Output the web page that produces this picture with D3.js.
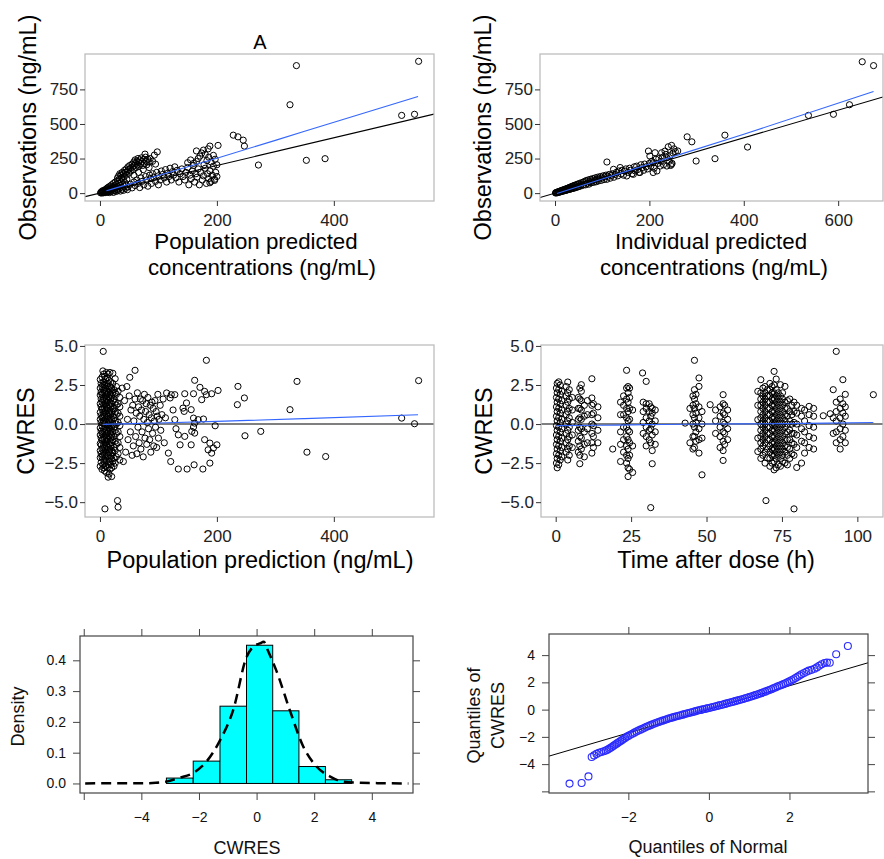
<!DOCTYPE html>
<html>
<head>
<meta charset="utf-8">
<script src="https://cdn.jsdelivr.net/npm/d3@7/dist/d3.min.js"></script>
<style>
  body { margin: 0; background: #fff; }
  svg { display: block; font-family: "Liberation Sans", Arial, sans-serif; }
</style>
</head>
<body>
<div id="main"></div>
<script>
// ---- panel 1: observations vs population predictions (ng/mL)
const obsVsPred = [
  [1,2],[2,6],[3,1],[3,12],[4,4],[5,9],[5,18],[6,2],[7,7],[7,14],[8,22],[9,4],[9,11],[10,28],[10,17],[11,6],[12,13],[12,35],
  [13,22],[14,8],[14,42],[15,15],[16,28],[16,4],[17,50],[18,20],[18,10],[19,35],[20,60],[20,26],[21,14],[22,44],[23,70],[23,5],
  [24,30],[25,18],[25,52],[26,80],[27,38],[28,12],[28,62],[29,25],[30,45],[30,90],[31,20],[32,70],[33,34],[33,100],[34,55],
  [35,15],[36,80],[36,42],[37,110],[38,28],[39,62],[40,95],[40,20],[41,120],[42,48],[43,75],[44,35],[45,130],[45,60],[46,100],[47,25],
  [30,110],[32,125],[34,140],[36,130],[38,150],[40,140],[42,165],[43,150],[45,175],[46,155],[48,190],[49,170],[50,145],[51,200],
  [52,180],[53,160],[55,210],[56,190],[57,170],[58,225],[59,200],[60,240],[61,215],[62,185],[63,230],[64,205],[65,250],[66,225],
  [67,195],[68,240],[70,215],[71,255],[72,230],[73,200],[75,245],[76,215],[78,260],[79,230],[80,205],[82,245],[84,225],[77,282],
  [93,275],[98,298],[86,250],[90,230],[95,210],[58,130],[66,150],[74,170],[84,185],
  [48,45],[52,65],[55,38],[58,80],[60,55],[63,95],[65,70],[68,40],[70,110],[72,85],[75,60],[78,120],[80,95],[82,50],[85,130],
  [87,105],[88,70],[90,140],[92,115],[95,85],[97,150],[100,125],[100,60],[103,95],[105,160],[107,135],[110,110],[112,170],[114,80],
  [116,145],[118,120],[120,180],[122,95],[124,155],[126,130],[128,190],[130,110],[132,165],[135,80],[137,140],[140,175],[142,120],
  [145,95],[147,150],[150,185],[152,60],[154,130],[156,105],[158,160],[160,200],[162,80],[164,140],[166,115],[168,175],[170,60],
  [172,150],[175,95],[177,125],[180,180],[182,70],[184,140],[186,105],[188,160],[190,85],[192,130],[194,195],[196,100],[198,150],[200,120],
  [150,220],[155,240],[160,215],[165,305],[168,250],[171,268],[174,290],[177,311],[180,280],[183,235],[186,260],[188,340],[190,225],
  [194,273],[197,245],[202,345],[200,205],[185,320],[165,228],[178,205],[188,75],[196,92],
  [228,419],[236,407],[245,383],[247,340],[271,203],[325,639],[336,922],[353,237],[385,249],[516,562],[538,570],[545,953]
];
const smoothPred = [[11,17],[100,128],[200,252],[350,447],[544,699]];

// ---- panel 2: observations vs individual predictions (ng/mL)
const obsVsIpred = [
  [1,1],[2,4],[3,2],[4,6],[5,3],[6,9],[7,5],[8,11],[9,7],[10,14],[11,9],[12,16],[13,11],[14,19],[15,13],[16,21],[17,15],[18,24],
  [19,17],[20,26],[21,18],[22,29],[23,20],[24,31],[25,23],[26,34],[27,24],[28,37],[29,27],[30,40],[31,28],[32,42],[33,30],[34,46],
  [35,32],[36,48],[37,34],[38,51],[39,35],[40,55],[42,38],[43,58],[45,41],[46,62],[48,45],[49,66],[50,48],[52,70],[53,50],[55,60],
  [56,75],[58,55],[60,80],[61,62],[63,85],[65,60],[66,90],[68,72],[70,95],[72,65],[73,82],[75,100],[77,75],[78,88],[80,105],[82,78],
  [84,95],[85,110],[87,82],[89,100],[90,115],[92,88],[94,105],[96,120],[98,92],[100,110],[102,125],[104,98],[106,118],[108,130],
  [110,225],[110,100],[112,122],[115,135],[117,108],[120,128],[122,140],[124,172],[125,115],[128,135],[130,150],[133,125],[135,160],
  [138,185],[140,140],[142,165],[145,130],[148,160],[150,175],[152,124],[155,150],[158,180],[160,165],[163,140],[166,136],[168,190],
  [170,160],[173,195],[175,170],[178,150],[180,149],[182,205],[185,185],[188,165],[190,210],[193,190],[196,175],[198,304],[200,215],
  [201,268],[203,195],[205,230],[208,220],[208,149],[210,180],[212,292],[214,245],[216,160],[218,215],[220,250],[223,196],[225,230],
  [226,292],[228,260],[230,205],[233,304],[235,280],[237,256],[237,196],[240,335],[242,230],[244,270],[245,200],[247,345],[247,208],
  [250,290],[252,320],[255,300],[260,305],[248,215],
  [280,407],[290,371],[299,232],[339,249],[360,419],[408,333],[537,562],[590,570],[624,639],[651,950],[675,922]
];
const smoothIpred = [[4,-3],[100,102],[200,210],[400,426],[675,735]];

// ---- panel 3: CWRES vs population prediction
const cwresCorePred = [
  [0.5,[-2.7,-2.15,-1.7,-1.25,-0.7,-0.25,0.3,0.75,1.3,1.85,2.3,2.85]],
  [2,[-2.45,-1.9,-1.35,-0.9,-0.45,0.1,0.55,1.1,1.6,2.05,2.6]],
  [3.5,[-2.9,-2.1,-1.6,-1.05,-0.6,-0.1,0.4,0.95,1.4,1.9,2.4,3.0]],
  [5,[-2.6,-2.0,-1.5,-0.95,-0.5,0.05,0.5,1.0,1.55,2.0,2.5,3.4]],
  [6.5,[-2.8,-2.3,-1.8,-1.3,-0.8,-0.3,0.2,0.7,1.2,1.7,2.2,2.7,3.2]],
  [8,[-3.0,-2.5,-2.0,-1.5,-1.0,-0.5,0,0.5,1.0,1.5,2.0,2.5,3.05]],
  [9.5,[-2.7,-2.2,-1.7,-1.2,-0.7,-0.2,0.3,0.8,1.3,1.8,2.3,2.9]],
  [11,[-3.1,-2.4,-1.9,-1.4,-0.9,-0.4,0.1,0.6,1.1,1.6,2.1,2.6,3.3]],
  [12.5,[-2.8,-2.1,-1.6,-1.1,-0.6,-0.1,0.4,0.9,1.4,1.9,2.4,2.95]],
  [14,[-3.4,-2.6,-2.0,-1.5,-1.0,-0.5,0,0.5,1.0,1.5,2.0,2.6,3.2]],
  [15.5,[-3.2,-2.4,-1.8,-1.3,-0.8,-0.3,0.2,0.7,1.2,1.7,2.2,2.8]],
  [17,[-2.9,-2.2,-1.6,-1.1,-0.6,-0.1,0.4,0.9,1.4,1.9,2.4,3.3]],
  [18.5,[-2.6,-2.0,-1.4,-0.9,-0.4,0.1,0.6,1.1,1.6,2.1,2.7]],
  [20,[-3.36,-2.8,-2.2,-1.7,-1.2,-0.7,-0.2,0.3,0.8,1.3,1.8,2.3]],
  [22,[-2.4,-1.8,-1.0,-0.5,0,0.5,1.0,1.5,2.0,2.6,3.25]],
  [24,[-2.7,-2.2,-1.5,-0.8,-0.2,0.4,1.0,1.6,2.2]],
  [26,[-2.5,-1.7,-1.1,-0.4,0.2,0.8,1.4,2.0,2.9]],
  [28,[-2.1,-1.3,-0.6,0,0.6,1.2,1.9,2.4]],
  [31,[-1.9,-1.2,-0.5,0.1,0.7,1.3,2.1]],
  [34,[-2.3,-1.5,-0.8,-0.1,0.5,1.1,1.7]]
];
const cwresVsPred = [
  [5.6,4.65],[8.5,-5.43],[30,-4.9],[31,-5.32],
  [38,2.3],[40,-2.4],[42,1.5],[44,-1.8],[46,2.4],[47,0.3],[48,-1.0],[50,1.8],[51,2.99],[52,-0.5],[53,0.9],[55,-2.0],[56,1.2],
  [57,-1.4],[58,0.2],[60,3.44],[60,1.6],[61,-0.8],[62,0.7],[63,-1.9],[64,2.0],[65,-0.2],[66,1.1],[67,-1.2],[68,0.5],[69,1.6],
  [70,-1.6],[71,0.9],[72,-0.5],[73,1.5],[74,-2.1],[75,0.3],[76,1.9],[77,-0.9],[78,0.8],[79,1.3],[80,-1.3],[81,0.1],[82,1.7],
  [83,-0.3],[84,0.6],[85,-1.0],[86,1.2],[87,-1.8],[88,0.4],[89,1.4],[90,-0.6],[91,1.0],[92,-1.4],[93,0.2],[94,1.5],[95,-0.2],
  [96,0.8],[97,-1.5],[98,0.5],[99,1.9],[100,-0.9],[101,0.3],[103,1.2],[104,-0.4],[106,0.6],[108,1.6],[110,-1.2],[112,0.4],
  [114,1.99],[117,-1.86],[120,1.67],[121,-2.4],[122,1.88],[125,0.9],[128,0.28],[128,1.88],[130,-0.3],[134,-0.69],[134,-2.88],
  [137,-1.33],[142,1.02],[144,0.81],[145,1.94],[145,-0.79],[148,1.35],[149,-2.88],[156,0.92],[156,-1.33],[157,-0.47],[160,1.94],
  [160,0.38],[160,-0.19],[161,-2.61],[162,2.8],[162,0.06],[162,-0.58],[168,0.28],[171,2.35],[174,1.56],[176,-2.88],[177,0.32],
  [179,2.09],[179,-1.0],[182,4.08],[182,1.88],[185,-1.65],[188,-1.22],[188,-2.5],[191,1.94],[191,-1.86],[194,-1.54],[197,-0.11],
  [200,-1.33],[202,2.15],[235,1.24],[236,2.41],[247,1.67],[248,-0.75],[275,-0.47],[325,0.92],[337,2.73],[354,-1.8],[386,-2.08],
  [516,0.38],[538,0.02],[545,2.78]
];
const smoothCwresPred = [[5,-0.02],[100,0.07],[200,0.17],[350,0.35],[544,0.6]];

// ---- panel 4: CWRES vs time after dose (h), grouped by sampling time
const cwresTimeCols = [
  [0.25,[-2.5,-1.9,-1.3,-0.7,-0.1,0.5,1.1,1.7,2.3]],
  [0.5,[-2.8,-2.2,-1.6,-1.0,-0.4,0.2,0.8,1.4,2.0,2.6]],
  [1,[-2.6,-2.0,-1.4,-0.8,-0.2,0.4,1.0,1.6,2.2,2.7]],
  [1.5,[-2.3,-1.7,-1.1,-0.5,0.1,0.7,1.3,1.9,2.5]],
  [2,[-2.1,-1.5,-0.9,-0.3,0.3,0.9,1.5,2.1]],
  [3.5,[-1.8,-1.2,-0.6,0,0.6,1.2,1.8,2.4]],
  [4,[-2.3,-1.6,-1.0,-0.4,0.2,0.8,1.4,2.0,2.69]],
  [4.5,[-2.0,-1.4,-0.8,-0.2,0.4,1.0,1.6,2.2]],
  [5.5,[-1.5,-0.7,0.1,0.9,1.7]],
  [7.5,[-1.8,-1.1,-0.4,0.3,1.0,1.7]],
  [8,[-2.54,-2.0,-1.4,-0.8,-0.2,0.4,1.0,1.6,2.3]],
  [8.5,[-1.6,-0.9,-0.3,0.3,0.9,1.5,2.1,2.52]],
  [9.5,[-2.1,-1.3,-0.5,0.5,1.2]],
  [10.5,[-1.2,-0.3,0.6,1.5]],
  [12,[-1.86,-1.2,-0.6,0,0.6,1.2,1.67,2.9]],
  [12.5,[-1.5,-0.8,-0.1,0.7,1.3]],
  [14,[-1.2,-0.4,0.4,1.1]],
  [18.9,[-1.6]],
  [21.5,[-2.4,-1.3,-0.5,0.6,1.4]],
  [22.5,[-1.8,-1.0,-0.2,0.6,1.2,1.8]],
  [23.5,[-2.5,-2.0,-1.4,-0.8,-0.2,0.4,1.0,1.6,2.3,3.44]],
  [24,[-3.36,-2.8,-2.2,-1.6,-1.0,-0.4,0.2,0.8,1.4,2.0,2.4]],
  [24.5,[-2.9,-2.0,-1.2,-0.5,0.3,1.0,1.7,2.3]],
  [25.5,[-3.1,-1.4,0.9]],
  [28.8,[3.27]],
  [29,[-0.6,0.1,0.8,1.4]],
  [30,[-1.4,-0.8,-0.2,0.4,1.0,1.3,2.73]],
  [31,[-1.0,-0.4,0.2,0.8,1.3]],
  [31.5,[-5.35,-1.2,-0.3,0.5,1.1]],
  [32,[-2.54,-1.7,-0.7,0,0.7,1.0]],
  [33,[-1.3,-0.5,0.2,0.9]],
  [42.9,[0.06]],
  [44.5,[-1.2,1.0]],
  [45.5,[-1.6,-0.8,0,0.6,1.2,1.8]],
  [46,[-1.5,-0.8,-0.2,0.4,1.0,1.6,2.2,4.08]],
  [46.5,[-1.1,-0.5,0.1,0.7,1.3,1.9]],
  [47.5,[-1.86,-1.0,-0.3,0.4,1.1,2.41,2.95]],
  [48.5,[-3.25,-0.9,0,0.8]],
  [51.2,[1.24]],
  [53,[-0.6,0.2,0.9]],
  [54.5,[-1.5,-0.8,-0.2,0.5,1.1]],
  [55.5,[-2.33,-1.7,-1.1,-0.5,0.1,0.7,1.3,1.88]],
  [56,[-1.3,-0.6,0,0.6,1.2]],
  [57,[-1.0,-0.3,0.3,0.9]],
  [67,[-1.76,-0.9,0.28,1.2,2.09]],
  [68,[-2.2,-1.6,-1.2,-0.8,-0.4,0,0.4,0.8,1.2,1.6,2.0,2.84]],
  [68.7,[-2.0,-1.4,-1.0,-0.6,-0.2,0.2,0.6,1.0,1.4,1.8,2.3]],
  [69.4,[-2.5,-1.8,-1.2,-0.8,-0.4,0,0.4,0.8,1.2,1.6,2.0,2.4]],
  [69.7,[-4.9]],
  [70.2,[-2.18,-1.6,-1.0,-0.6,-0.2,0.2,0.6,1.0,1.4,1.8,2.2]],
  [71,[-2.7,-2.2,-1.8,-1.4,-1.0,-0.6,-0.2,0.2,0.6,1.0,1.4,1.8,2.2,2.6]],
  [71.7,[-2.5,-2.0,-1.6,-1.2,-0.8,-0.4,0,0.4,0.8,1.2,1.6,2.0,2.4]],
  [72.4,[-2.93,-2.4,-2.0,-1.6,-1.2,-0.8,-0.4,0,0.4,0.8,1.2,1.6,2.0,2.5,3.37]],
  [73.1,[-2.8,-2.2,-1.8,-1.4,-1.0,-0.6,-0.2,0.2,0.6,1.0,1.4,1.8,2.2,2.88]],
  [73.8,[-2.6,-2.0,-1.6,-1.2,-0.8,-0.4,0,0.4,0.8,1.2,1.6,2.0]],
  [74.5,[-2.7,-2.2,-1.8,-1.4,-1.0,-0.6,-0.2,0.2,0.6,1.0,1.4,1.8,2.52]],
  [75.2,[-2.4,-2.0,-1.6,-1.2,-0.8,-0.4,0,0.4,0.8,1.2,1.6,2.0]],
  [76,[-2.5,-1.8,-1.4,-1.0,-0.6,-0.2,0.2,0.6,1.0,1.4,2.41]],
  [76.8,[-2.61,-2.0,-1.5,-1.0,-0.5,0,0.5,1.0,1.5]],
  [77.6,[-2.2,-1.6,-1.0,-0.4,0.2,0.8,1.6]],
  [78.3,[-1.9,-1.2,-0.6,0,0.6,1.2]],
  [79,[-5.43,-2.0,-1.3,-0.6,0.1,0.8,1.4]],
  [79.9,[-2.78,-1.5,-0.7,0,0.7,1.2]],
  [81.5,[-2.5,-1.1,-0.3,0.5,1.0]],
  [82.5,[-1.86,-1.2,-0.5,0.2,0.9]],
  [84,[-1.5,-0.8,-0.1,0.6,1.13]],
  [85.5,[-1.6,-0.9,-0.2,0.5,1.0]],
  [88.7,[0.53]],
  [91,[0.66]],
  [92,[-0.6,0.4,2.2]],
  [93,[-1.2,-0.5,0.2,0.8,1.4,4.65]],
  [94.3,[-1.6,-1.0,-0.3,0.4,1.0,1.6]],
  [95.2,[-0.8,0,0.7,1.3,2.84]],
  [96,[-1.2,-0.4,0.5,1.1,1.9]],
  [105.3,[1.88]]
];
const smoothCwresTime = [[0.3,-0.1],[15,-0.08],[30,-0.04],[50,0],[75,0.03],[90,0.06],[105.3,0.1]];

// ---- panel 5: histogram of CWRES with density estimate
const binEdges = [-3.13, -2.2, -1.27, -0.35, 0.56, 1.47, 2.39, 3.30];
const binDensity = [0.0175, 0.0726, 0.251, 0.449, 0.236, 0.055, 0.012];
const densityCurve = [
  [-5.95,0.0],[-5.0,0.001],[-4.0,0.0005],[-3.5,0.002],[-3.13,0.006],[-2.7,0.018],[-2.2,0.034],[-1.74,0.071],
  [-1.27,0.14],[-0.81,0.239],[-0.35,0.41],[-0.12,0.444],[0.12,0.455],[0.25,0.46],[0.4,0.43],[0.68,0.368],
  [1.15,0.239],[1.62,0.12],[2.08,0.055],[2.54,0.023],[3.0,0.006],[3.6,0.002],[4.2,0.001],[5.27,0.0]
];

// ---- panel 6: normal QQ plot of CWRES
const qqPoints = [
  [-3.46,-5.43],[-3.16,-5.39],[-2.99,-4.9],[-2.91,-3.48],[-2.85,-3.36],[-2.79,-3.25],[-2.73,-3.17],[-2.67,-3.11],[-2.61,-3.06],
  [-2.56,-3.0],[-2.52,-2.95],[-2.48,-2.88],[-2.44,-2.8],[-2.4,-2.72],[-2.36,-2.64],[-2.32,-2.56],[-2.28,-2.48],[-2.24,-2.4],
  [-2.2,-2.32],[-2.16,-2.24],[-2.12,-2.16],[-2.08,-2.08],[-2.04,-2.0],[-2.0,-1.93],[-1.95,-1.85],[-1.9,-1.77],[-1.85,-1.69],
  [-1.8,-1.61],[-1.75,-1.54],[-1.7,-1.47],[-1.65,-1.4],[-1.6,-1.33],[-1.55,-1.26],[-1.5,-1.2],[-1.45,-1.14],[-1.4,-1.08],
  [-1.35,-1.02],[-1.3,-0.96],[-1.25,-0.91],[-1.2,-0.86],[-1.15,-0.81],[-1.1,-0.76],[-1.05,-0.71],[-1.0,-0.66],[-0.95,-0.62],
  [-0.9,-0.57],[-0.85,-0.53],[-0.8,-0.49],[-0.75,-0.45],[-0.7,-0.41],[-0.65,-0.37],[-0.6,-0.33],[-0.55,-0.29],[-0.5,-0.25],
  [-0.45,-0.21],[-0.4,-0.17],[-0.35,-0.13],[-0.3,-0.09],[-0.25,-0.05],[-0.2,-0.02],[-0.15,0.02],[-0.1,0.05],[-0.05,0.09],
  [0,0.12],[0.05,0.16],[0.1,0.19],[0.15,0.23],[0.2,0.27],[0.25,0.31],[0.3,0.34],[0.35,0.38],[0.4,0.42],[0.45,0.46],[0.5,0.5],
  [0.55,0.54],[0.6,0.58],[0.65,0.62],[0.7,0.66],[0.75,0.7],[0.8,0.74],[0.85,0.78],[0.9,0.83],[0.95,0.87],[1.0,0.92],[1.05,0.96],
  [1.1,1.01],[1.15,1.06],[1.2,1.11],[1.25,1.16],[1.3,1.21],[1.35,1.27],[1.4,1.32],[1.45,1.38],[1.5,1.44],[1.55,1.5],[1.6,1.56],
  [1.65,1.62],[1.7,1.69],[1.75,1.75],[1.8,1.81],[1.85,1.87],[1.9,1.94],[1.95,2.0],[2.0,2.07],[2.05,2.15],[2.1,2.23],[2.15,2.32],
  [2.2,2.41],[2.25,2.5],[2.3,2.6],[2.36,2.69],[2.42,2.78],[2.48,2.86],[2.55,2.92],[2.62,3.0],[2.68,3.1],[2.74,3.22],[2.8,3.33],
  [2.87,3.42],[2.93,3.45],[3.0,3.44],[3.16,4.06],[3.45,4.67]
];
const qqLine = { intercept: 0.02, slope: 0.865 };

// ------------------------------------------------------------------
const W = 884, H = 859;
const FONT_TICK_GG = 17, FONT_TITLE_GG = 23.5, FONT_TITLE_GG2 = 22.3;
const FONT_TICK_LAT = 14, FONT_TITLE_LAT = 18;
const BLUE = "#3366FF";

const svg = d3.select("#main").append("svg").attr("width", W).attr("height", H);
const defs = svg.append("defs");

const flatten = cols => cols.flatMap(([x, vals]) => vals.map(v => [x, v]));

function addClip(id, box) {
    defs.append("clipPath").attr("id", id)
        .append("rect")
        .attr("x", box[0]).attr("y", box[1])
        .attr("width", box[2] - box[0]).attr("height", box[3] - box[1]);
}

function styleAxis(sel, size, color, textColor) {
    sel.select(".domain").remove();
    sel.selectAll(".tick line").attr("stroke", color).attr("stroke-width", 1);
    sel.selectAll(".tick text")
        .attr("fill", textColor)
        .style("font-size", size + "px")
        .style("font-family", "'Liberation Sans', Arial, sans-serif");
}

// ggplot-like scatter panel
function ggPanel(cfg) {
    const [l, t, r, b] = cfg.box;
    const x = d3.scaleLinear().domain(cfg.xDomain).range([l, r]);
    const y = d3.scaleLinear().domain(cfg.yDomain).range([b, t]);
    addClip(cfg.id, cfg.box);

    const g = svg.append("g");
    const inner = g.append("g").attr("clip-path", `url(#${cfg.id})`);

    inner.selectAll("circle.pt")
        .data(cfg.points)
        .enter()
        .append("circle")
        .attr("class", "pt")
        .attr("cx", d => x(d[0]))
        .attr("cy", d => y(d[1]))
        .attr("r", 3.1)
        .attr("fill", "none")
        .attr("stroke", "#000")
        .attr("stroke-width", 1);

    const lineGen = d3.line().x(d => x(d[0])).y(d => y(d[1]));
    inner.append("path")
        .attr("d", lineGen(cfg.refLine(x.domain())))
        .attr("fill", "none").attr("stroke", "#000").attr("stroke-width", 1.1);

    inner.append("path")
        .attr("d", lineGen.curve(d3.curveMonotoneX)(cfg.smooth))
        .attr("fill", "none").attr("stroke", BLUE).attr("stroke-width", 1.1);

    g.append("rect")
        .attr("x", l).attr("y", t).attr("width", r - l).attr("height", b - t)
        .attr("fill", "none").attr("stroke", "#bdbdbd").attr("stroke-width", 1.3);

    const ax = g.append("g").attr("transform", `translate(0,${b})`)
        .call(d3.axisBottom(x).tickValues(cfg.xTicks).tickSize(5).tickPadding(8).tickFormat(cfg.xFormat || d3.format("d")));
    styleAxis(ax, FONT_TICK_GG, "#333", "#222");

    const ay = g.append("g").attr("transform", `translate(${l},0)`)
        .call(d3.axisLeft(y).tickValues(cfg.yTicks).tickSize(5).tickPadding(2).tickFormat(cfg.yFormat || d3.format("d")));
    styleAxis(ay, FONT_TICK_GG, "#333", "#222");

    // axis titles, one text per line
    const titleSize = cfg.xTitle.length > 1 ? FONT_TITLE_GG2 : FONT_TITLE_GG;
    cfg.xTitle.forEach(line => {
        g.append("text")
            .attr("x", line.cx).attr("y", line.y)
            .attr("text-anchor", "middle")
            .style("font-size", titleSize + "px")
            .attr("fill", "#000")
            .text(line.text);
    });

    g.append("text")
        .attr("transform", `translate(${cfg.yTitleX},${(t + b) / 2}) rotate(-90)`)
        .attr("text-anchor", "middle")
        .style("font-size", FONT_TITLE_GG + "px")
        .attr("fill", "#000")
        .text(cfg.yTitle);

    return { x, y, g };
}

const identity = d => [[d[0], d[0]], [d[1], d[1]]];
const zeroLine = d => [[d[0], 0], [d[1], 0]];
const fmt1 = d3.format(".1f");

// panel 1
const p1 = ggPanel({
    id: "clip1", box: [85, 54, 434, 201],
    xDomain: [-25.6, 571.3], yDomain: [-57, 1006],
    xTicks: [0, 200, 400], yTicks: [0, 250, 500, 750],
    points: obsVsPred, smooth: smoothPred, refLine: identity,
    xTitle: [{ text: "Population predicted", cx: 256, y: 249 }, { text: "concentrations (ng/mL)", cx: 262, y: 274.5 }],
    yTitle: "Observations (ng/mL)", yTitleX: 36
});
p1.g.append("text")
    .attr("x", 260).attr("y", 49)
    .attr("text-anchor", "middle")
    .style("font-size", "20px")
    .text("A");

// panel 2
ggPanel({
    id: "clip2", box: [540, 54, 883, 201],
    xDomain: [-31.8, 695], yDomain: [-57, 1006],
    xTicks: [0, 200, 400, 600], yTicks: [0, 250, 500, 750],
    points: obsVsIpred, smooth: smoothIpred, refLine: identity,
    xTitle: [{ text: "Individual predicted", cx: 711, y: 249 }, { text: "concentrations (ng/mL)", cx: 714, y: 274.5 }],
    yTitle: "Observations (ng/mL)", yTitleX: 491
});

// panel 3
ggPanel({
    id: "clip3", box: [85, 345, 434, 517],
    xDomain: [-25.6, 571.3], yDomain: [-5.95, 5.06],
    xTicks: [0, 200, 400], yTicks: [-5, -2.5, 0, 2.5, 5], yFormat: fmt1,
    points: flatten(cwresCorePred).concat(cwresVsPred), smooth: smoothCwresPred, refLine: zeroLine,
    xTitle: [{ text: "Population prediction (ng/mL)", cx: 260, y: 568 }],
    yTitle: "CWRES", yTitleX: 34
});

// panel 4
ggPanel({
    id: "clip4", box: [541, 345, 883, 517],
    xDomain: [-4.87, 108.5], yDomain: [-5.95, 5.06],
    xTicks: [0, 25, 50, 75, 100], yTicks: [-5, -2.5, 0, 2.5, 5], yFormat: fmt1,
    points: flatten(cwresTimeCols), smooth: smoothCwresTime, refLine: zeroLine,
    xTitle: [{ text: "Time after dose (h)", cx: 716, y: 568 }],
    yTitle: "CWRES", yTitleX: 492
});

// lattice-like frame with ticks on all four sides
function latticeFrame(cfg) {
    const [l, t, r, b] = cfg.box;
    const x = d3.scaleLinear().domain(cfg.xDomain).range([l, r]);
    const y = d3.scaleLinear().domain(cfg.yDomain).range([b, t]);
    addClip(cfg.id, cfg.box);
    const g = svg.append("g");
    const inner = g.append("g").attr("clip-path", `url(#${cfg.id})`);
    const col = "#444";
    const lab = v => cfg.hideLabel.includes(v) ? "" : cfg.fmt(v);

    const axB = g.append("g").attr("transform", `translate(0,${b})`)
        .call(d3.axisBottom(x).tickValues(cfg.xTicks).tickSize(7).tickPadding(12).tickFormat(v => cfg.xHide.includes(v) ? "" : cfg.xFmt(v)));
    styleAxis(axB, FONT_TICK_LAT, col, "#111");
    const axT = g.append("g").attr("transform", `translate(0,${t})`)
        .call(d3.axisTop(x).tickValues(cfg.xTicks).tickSize(7).tickFormat(""));
    styleAxis(axT, FONT_TICK_LAT, col, "#111");
    const axL = g.append("g").attr("transform", `translate(${l},0)`)
        .call(d3.axisLeft(y).tickValues(cfg.yTicks).tickSize(7).tickPadding(7).tickFormat(lab));
    styleAxis(axL, FONT_TICK_LAT, col, "#111");
    const axR = g.append("g").attr("transform", `translate(${r},0)`)
        .call(d3.axisRight(y).tickValues(cfg.yTicks).tickSize(7).tickFormat(""));
    styleAxis(axR, FONT_TICK_LAT, col, "#111");

    g.append("rect")
        .attr("x", l).attr("y", t).attr("width", r - l).attr("height", b - t)
        .attr("fill", "none").attr("stroke", col).attr("stroke-width", 1.2);

    g.append("text")
        .attr("x", cfg.xTitle.cx).attr("y", cfg.xTitle.y)
        .attr("text-anchor", "middle")
        .style("font-size", FONT_TITLE_LAT + "px")
        .attr("fill", "#111")
        .text(cfg.xTitle.text);

    cfg.yTitle.forEach(line => {
        g.append("text")
            .attr("transform", `translate(${line.x},${(t + b) / 2 + 2}) rotate(-90)`)
            .attr("text-anchor", "middle")
            .style("font-size", FONT_TITLE_LAT + "px")
            .attr("fill", "#111")
            .text(line.text);
    });

    return { x, y, g, inner };
}

// panel 5: histogram
const p5 = latticeFrame({
    id: "clip5", box: [80, 636, 413, 793],
    xDomain: [-6.13, 5.43], yDomain: [-0.031, 0.479],
    xTicks: [-6, -4, -2, 0, 2, 4], xHide: [-6], xFmt: d3.format("d"),
    yTicks: [0, 0.1, 0.2, 0.3, 0.4], hideLabel: [], fmt: fmt1,
    xTitle: { text: "CWRES", cx: 247, y: 854 },
    yTitle: [{ text: "Density", x: 24 }]
});
const bins = binDensity.map((d, i) => ({ x0: binEdges[i], x1: binEdges[i + 1], d }));
p5.inner.selectAll("rect.bar")
    .data(bins)
    .enter()
    .append("rect")
    .attr("class", "bar")
    .attr("x", d => p5.x(d.x0))
    .attr("width", d => p5.x(d.x1) - p5.x(d.x0))
    .attr("y", d => p5.y(d.d))
    .attr("height", d => p5.y(0) - p5.y(d.d))
    .attr("fill", "#00FFFF")
    .attr("stroke", "#000")
    .attr("stroke-width", 1);
p5.inner.append("path")
    .attr("d", d3.line().x(d => p5.x(d[0])).y(d => p5.y(d[1])).curve(d3.curveMonotoneX)(densityCurve))
    .attr("fill", "none")
    .attr("stroke", "#000")
    .attr("stroke-width", 2.5)
    .attr("stroke-dasharray", "10,6");

// panel 6: QQ plot
const p6 = latticeFrame({
    id: "clip6", box: [549, 634, 868, 793],
    xDomain: [-3.97, 3.95], yDomain: [-6.12, 5.55],
    xTicks: [-2, 0, 2], xHide: [], xFmt: d3.format("d"),
    yTicks: [-6, -4, -2, 0, 2, 4], hideLabel: [-6], fmt: d3.format("d"),
    xTitle: { text: "Quantiles of Normal", cx: 708, y: 853 },
    yTitle: [{ text: "Quantiles of", x: 480 }, { text: "CWRES", x: 504 }]
});
const qd = p6.x.domain();
p6.inner.append("line")
    .attr("x1", p6.x(qd[0])).attr("y1", p6.y(qqLine.intercept + qqLine.slope * qd[0]))
    .attr("x2", p6.x(qd[1])).attr("y2", p6.y(qqLine.intercept + qqLine.slope * qd[1]))
    .attr("stroke", "#000").attr("stroke-width", 1);
p6.inner.selectAll("circle.qq")
    .data(qqPoints)
    .enter()
    .append("circle")
    .attr("class", "qq")
    .attr("cx", d => p6.x(d[0]))
    .attr("cy", d => p6.y(d[1]))
    .attr("r", 3.5)
    .attr("fill", "none")
    .attr("stroke", "#2a2aff")
    .attr("stroke-width", 1.1);
</script>
</body>
</html>
